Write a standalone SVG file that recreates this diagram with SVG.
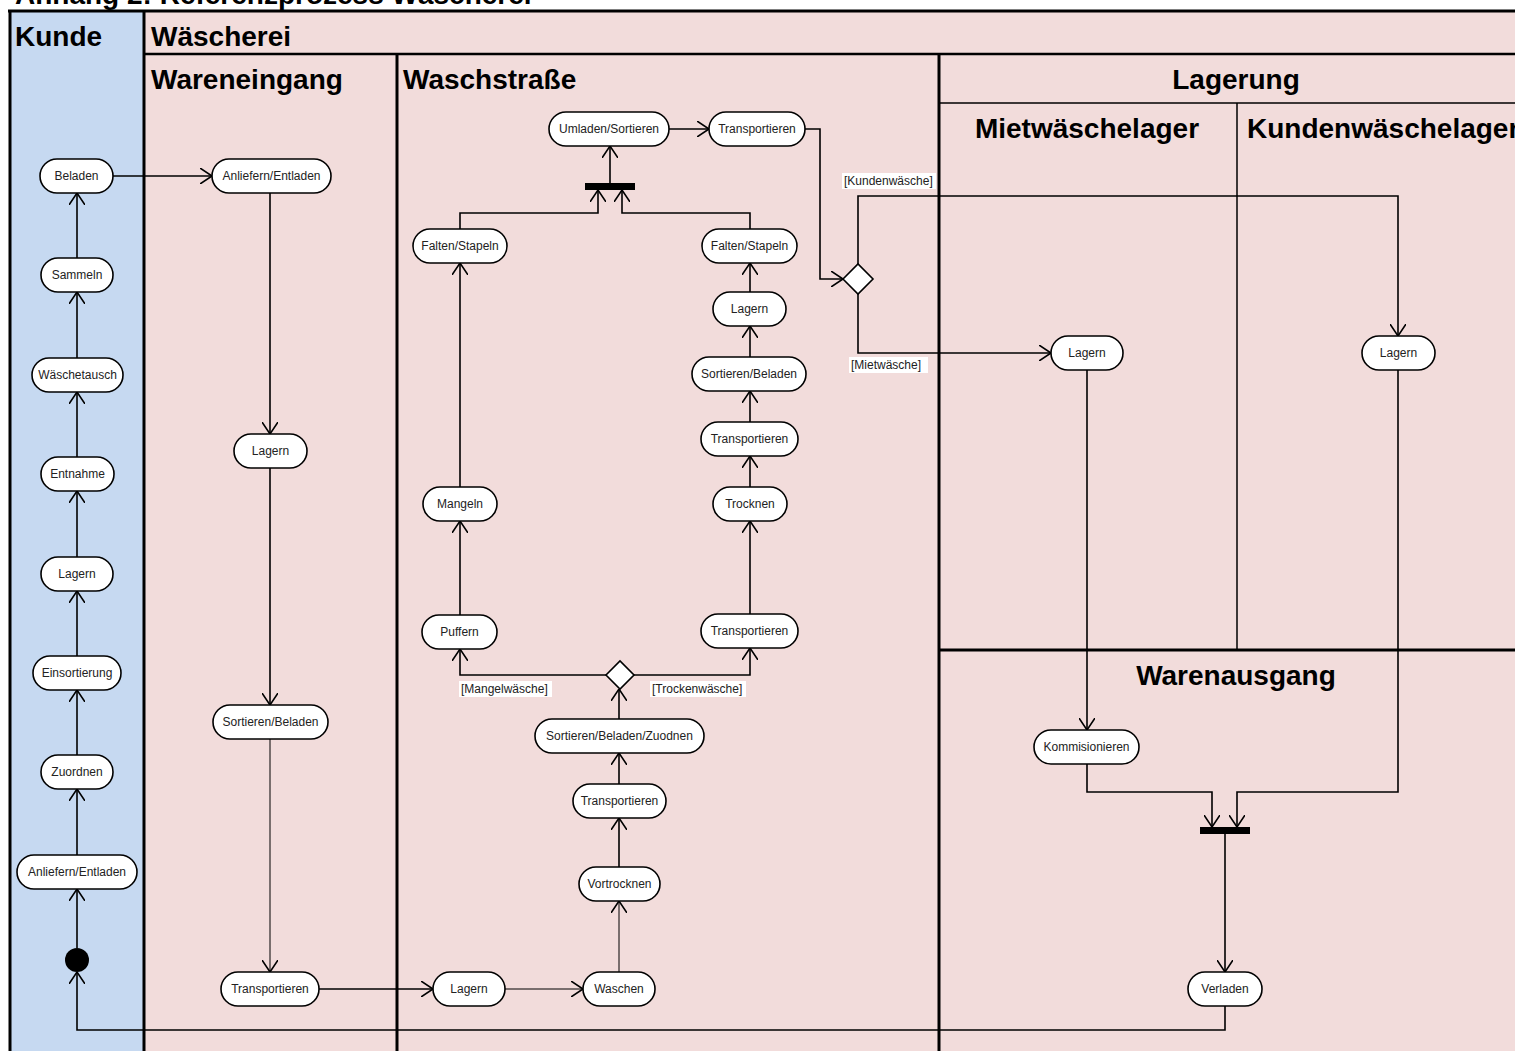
<svg xmlns="http://www.w3.org/2000/svg" width="1515" height="1051" viewBox="0 0 1515 1051">
<style>
.hdr{font-family:"Liberation Sans",Arial,sans-serif;font-weight:bold;font-size:28px;fill:#000}
.node rect{fill:#fff;stroke:#000;stroke-width:1.6}
.node text{font-family:"Liberation Sans",Arial,sans-serif;font-size:12px;fill:#222;text-anchor:middle;dominant-baseline:central}
.c{fill:none;stroke:#000;stroke-width:1.6;marker-end:url(#arr)}
.cn{fill:none;stroke:#000;stroke-width:1.6}
.thin{stroke-width:1}
.lbl{font-family:"Liberation Sans",Arial,sans-serif;font-size:12px;fill:#222}
.lane{stroke:#000;fill:none}
</style>
<defs>
<marker id="arr" markerWidth="12" markerHeight="16" refX="12" refY="8" orient="auto" markerUnits="userSpaceOnUse">
<path d="M0,0 L12,8 L0,16" fill="none" stroke="#000" stroke-width="1.6"/>
</marker>
</defs>
<rect width="1515" height="1051" fill="#fff"/>
<text class="hdr" x="15" y="4">Anhang 2: Referenzprozess Wäscherei</text>
<g id="lanes">
<rect x="10" y="11" width="134" height="1045" fill="#c6d9f1"/>
<rect x="144" y="11" width="1375" height="1045" fill="#f2dcdb"/>
<line class="lane" x1="8" y1="11" x2="1515" y2="11" stroke-width="3"/>
<line class="lane" x1="10" y1="10" x2="10" y2="1051" stroke-width="3"/>
<line class="lane" x1="144" y1="10" x2="144" y2="1051" stroke-width="3"/>
<line class="lane" x1="144" y1="54" x2="1515" y2="54" stroke-width="2.5"/>
<line class="lane" x1="397" y1="54" x2="397" y2="1051" stroke-width="3"/>
<line class="lane" x1="939" y1="54" x2="939" y2="1051" stroke-width="3"/>
<line class="lane" x1="939" y1="103" x2="1515" y2="103" stroke-width="1.5"/>
<line class="lane" x1="1237" y1="103" x2="1237" y2="650" stroke-width="1.5"/>
<line class="lane" x1="939" y1="650" x2="1515" y2="650" stroke-width="3"/>
<text class="hdr" x="15" y="46">Kunde</text>
<text class="hdr" x="151" y="46">Wäscherei</text>
<text class="hdr" x="151" y="89">Wareneingang</text>
<text class="hdr" x="403" y="89">Waschstraße</text>
<text class="hdr" x="1236" y="89" text-anchor="middle">Lagerung</text>
<text class="hdr" x="1087" y="138" text-anchor="middle">Mietwäschelager</text>
<text class="hdr" x="1247" y="138">Kundenwäschelager</text>
<text class="hdr" x="1236" y="685" text-anchor="middle">Warenausgang</text>
</g>
<g id="connectors">
<path class="c" d="M77,948 L77,889"/>
<path class="c" d="M77,855 L77,789"/>
<path class="c" d="M77,755 L77,690"/>
<path class="c" d="M77,656 L77,591"/>
<path class="c" d="M77,557 L77,491"/>
<path class="c" d="M77,457 L77,392"/>
<path class="c" d="M77,358 L77,292"/>
<path class="c" d="M77,258 L77,193"/>
<path class="c" d="M113,176 L212,176"/>
<path class="c" d="M270,193 L270,434"/>
<path class="c" d="M270,468 L270,705"/>
<path class="c thin" d="M270,739 L270,972"/>
<path class="c" d="M319,989 L433,989"/>
<path class="c thin" d="M505,989 L583,989"/>
<path class="c thin" d="M619,972 L619,901"/>
<path class="c" d="M619,867 L619,818"/>
<path class="c" d="M619,784 L619,753"/>
<path class="c" d="M619,719 L619,689"/>
<path class="c" d="M606,675 L460,675 L460,649"/>
<path class="c" d="M634,675 L750,675 L750,648"/>
<path class="c" d="M460,615 L460,521"/>
<path class="c" d="M460,487 L460,263"/>
<path class="c" d="M460,229 L460,213 L598,213 L598,190"/>
<path class="c" d="M750,614 L750,521"/>
<path class="c" d="M750,487 L750,456"/>
<path class="c" d="M750,422 L750,391"/>
<path class="c" d="M750,357 L750,326"/>
<path class="c" d="M750,292 L750,263"/>
<path class="c" d="M750,229 L750,213 L622,213 L622,190"/>
<path class="c" d="M610,183 L610,146"/>
<path class="c" d="M669,129 L709,129"/>
<path class="c" d="M805,129 L820,129 L820,279 L843,279"/>
<path class="c" d="M858,264 L858,196 L1398,196 L1398,336"/>
<path class="c" d="M858,294 L858,353 L1051,353"/>
<path class="c" d="M1087,370 L1087,730"/>
<path class="c" d="M1087,764 L1087,792 L1212,792 L1212,827"/>
<path class="c" d="M1398,370 L1398,792 L1237,792 L1237,827"/>
<path class="c" d="M1225,834 L1225,972"/>
<path class="c" d="M1225,1006 L1225,1030 L77,1030 L77,972"/>
<rect x="842" y="173" width="94" height="16" fill="#fff"/>
<text class="lbl" x="844" y="185">[Kundenwäsche]</text>
<rect x="849" y="357" width="79" height="16" fill="#fff"/>
<text class="lbl" x="851" y="369">[Mietwäsche]</text>
<rect x="459" y="681" width="93" height="16" fill="#fff"/>
<text class="lbl" x="461" y="693">[Mangelwäsche]</text>
<rect x="650" y="681" width="96" height="16" fill="#fff"/>
<text class="lbl" x="652" y="693">[Trockenwäsche]</text>
</g>
<g id="start"><circle cx="77" cy="960" r="12" fill="#000"/></g>
<g id="fork1"><rect x="585" y="183" width="50" height="7" fill="#000"/></g>
<g id="join2"><rect x="1200" y="827" width="50" height="7" fill="#000"/></g>
<g id="dec1"><polygon points="606,675 620,661 634,675 620,689" fill="#fff" stroke="#000" stroke-width="1.6"/></g>
<g id="dec2"><polygon points="843,279 858,264 873,279 858,294" fill="#fff" stroke="#000" stroke-width="1.6"/></g>
<g id="k_beladen" class="node"><rect x="40" y="159" width="73" height="34" rx="17"/><text x="76.5" y="176">Beladen</text></g>
<g id="k_sammeln" class="node"><rect x="41" y="258" width="72" height="34" rx="17"/><text x="77" y="275">Sammeln</text></g>
<g id="k_tausch" class="node"><rect x="32" y="358" width="91" height="34" rx="17"/><text x="77.5" y="375">Wäschetausch</text></g>
<g id="k_entnahme" class="node"><rect x="41" y="457" width="73" height="34" rx="17"/><text x="77.5" y="474">Entnahme</text></g>
<g id="k_lagern" class="node"><rect x="41" y="557" width="72" height="34" rx="17"/><text x="77" y="574">Lagern</text></g>
<g id="k_einsort" class="node"><rect x="33" y="656" width="88" height="34" rx="17"/><text x="77" y="673">Einsortierung</text></g>
<g id="k_zuordnen" class="node"><rect x="41" y="755" width="72" height="34" rx="17"/><text x="77" y="772">Zuordnen</text></g>
<g id="k_anliefern" class="node"><rect x="17" y="855" width="120" height="34" rx="17"/><text x="77" y="872">Anliefern/Entladen</text></g>
<g id="we_anliefern" class="node"><rect x="212" y="159" width="119" height="34" rx="17"/><text x="271.5" y="176">Anliefern/Entladen</text></g>
<g id="we_lagern" class="node"><rect x="234" y="434" width="73" height="34" rx="17"/><text x="270.5" y="451">Lagern</text></g>
<g id="we_sort" class="node"><rect x="213" y="705" width="115" height="34" rx="17"/><text x="270.5" y="722">Sortieren/Beladen</text></g>
<g id="we_transp" class="node"><rect x="221" y="972" width="98" height="34" rx="17"/><text x="270" y="989">Transportieren</text></g>
<g id="ws_lagern" class="node"><rect x="433" y="972" width="72" height="34" rx="17"/><text x="469" y="989">Lagern</text></g>
<g id="ws_waschen" class="node"><rect x="583" y="972" width="72" height="34" rx="17"/><text x="619" y="989">Waschen</text></g>
<g id="ws_vortrocknen" class="node"><rect x="579" y="867" width="81" height="34" rx="17"/><text x="619.5" y="884">Vortrocknen</text></g>
<g id="ws_transp1" class="node"><rect x="573" y="784" width="93" height="34" rx="17"/><text x="619.5" y="801">Transportieren</text></g>
<g id="ws_sbz" class="node"><rect x="535" y="719" width="169" height="34" rx="17"/><text x="619.5" y="736">Sortieren/Beladen/Zuodnen</text></g>
<g id="ws_puffern" class="node"><rect x="422" y="615" width="75" height="34" rx="17"/><text x="459.5" y="632">Puffern</text></g>
<g id="ws_mangeln" class="node"><rect x="423" y="487" width="74" height="34" rx="17"/><text x="460" y="504">Mangeln</text></g>
<g id="ws_falten1" class="node"><rect x="413" y="229" width="94" height="34" rx="17"/><text x="460" y="246">Falten/Stapeln</text></g>
<g id="ws_transp2" class="node"><rect x="701" y="614" width="97" height="34" rx="17"/><text x="749.5" y="631">Transportieren</text></g>
<g id="ws_trocknen" class="node"><rect x="713" y="487" width="74" height="34" rx="17"/><text x="750" y="504">Trocknen</text></g>
<g id="ws_transp3" class="node"><rect x="701" y="422" width="97" height="34" rx="17"/><text x="749.5" y="439">Transportieren</text></g>
<g id="ws_sortbel" class="node"><rect x="692" y="357" width="114" height="34" rx="17"/><text x="749" y="374">Sortieren/Beladen</text></g>
<g id="ws_lagern2" class="node"><rect x="713" y="292" width="73" height="34" rx="17"/><text x="749.5" y="309">Lagern</text></g>
<g id="ws_falten2" class="node"><rect x="702" y="229" width="95" height="34" rx="17"/><text x="749.5" y="246">Falten/Stapeln</text></g>
<g id="ws_umladen" class="node"><rect x="549" y="112" width="120" height="34" rx="17"/><text x="609" y="129">Umladen/Sortieren</text></g>
<g id="ws_transp4" class="node"><rect x="709" y="112" width="96" height="34" rx="17"/><text x="757" y="129">Transportieren</text></g>
<g id="l_lagern_m" class="node"><rect x="1051" y="336" width="72" height="34" rx="17"/><text x="1087" y="353">Lagern</text></g>
<g id="l_lagern_k" class="node"><rect x="1362" y="336" width="73" height="34" rx="17"/><text x="1398.5" y="353">Lagern</text></g>
<g id="wa_komm" class="node"><rect x="1034" y="730" width="105" height="34" rx="17"/><text x="1086.5" y="747">Kommisionieren</text></g>
<g id="wa_verladen" class="node"><rect x="1188" y="972" width="74" height="34" rx="17"/><text x="1225" y="989">Verladen</text></g>
</svg>
